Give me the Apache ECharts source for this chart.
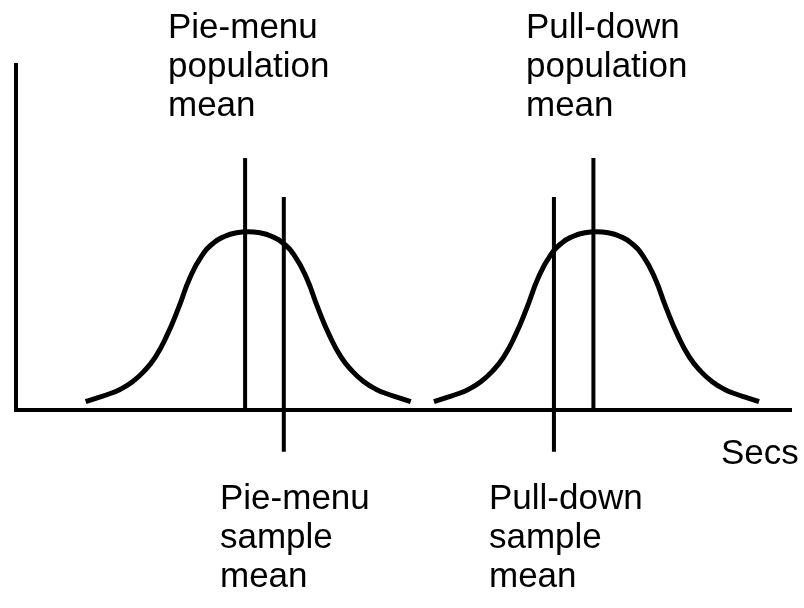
<!DOCTYPE html>
<html>
<head>
<meta charset="utf-8">
<script src="https://cdn.jsdelivr.net/npm/echarts@6/dist/echarts.min.js"></script>
<style>
  html, body { margin: 0; padding: 0; background: #fff; }
  #chart { width: 804px; height: 608px; }
</style>
</head>
<body>
<div id="chart"></div>
<script>
// Distribution of selection times (arbitrary units) for the two menu types
var pieMenuCurveX = [9, 10.5, 12, 13.5, 15, 16.5, 18, 19.5, 21, 22.5, 24, 25.5, 27, 28.5, 30, 31.5, 33, 34.5, 36, 37.5, 39, 40.5, 42, 43.5, 45, 46.5, 48, 49.5, 51];
var pieMenuCurveY = [2.3, 3.4, 4.5, 5.9, 8.0, 11.0, 15.2, 21.5, 29.5, 38.4, 44.6, 48.3, 50.3, 51.3, 51.6, 51.3, 50.3, 48.3, 44.6, 38.4, 29.5, 21.5, 15.2, 11.0, 8.0, 5.9, 4.5, 3.4, 2.3];

var pullDownCurveX = [54, 55.5, 57, 58.5, 60, 61.5, 63, 64.5, 66, 67.5, 69, 70.5, 72, 73.5, 75, 76.5, 78, 79.5, 81, 82.5, 84, 85.5, 87, 88.5, 90, 91.5, 93, 94.5, 96];
var pullDownCurveY = [2.3, 3.4, 4.5, 5.9, 8.0, 11.0, 15.2, 21.5, 29.5, 38.4, 44.6, 48.3, 50.3, 51.3, 51.6, 51.3, 50.3, 48.3, 44.6, 38.4, 29.5, 21.5, 15.2, 11.0, 8.0, 5.9, 4.5, 3.4, 2.3];

// Mean markers: x position, and the vertical extent of each marker line
var meanNames   = ['Pie-menu population mean', 'Pie-menu sample mean', 'Pull-down sample mean', 'Pull-down population mean'];
var meanX       = [29.6, 34.6, 69.5, 74.6];
var meanTop     = [73.0, 61.7, 61.7, 73.0];
var meanBottom  = [0, -12.3, -12.3, 0];

// Annotation text
var topLabels    = ['Pie-menu\npopulation\nmean', 'Pull-down\npopulation\nmean'];
var bottomLabels = ['Pie-menu\nsample\nmean', 'Pull-down\nsample\nmean'];
var axisName     = 'Secs';

function zip(xs, ys) {
  return xs.map(function (x, i) { return [x, ys[i]]; });
}

var FONT = '"Liberation Sans", Arial, Helvetica, sans-serif';
var INK = '#000';

var series = [
  {
    name: 'Pie-menu',
    type: 'line',
    data: zip(pieMenuCurveX, pieMenuCurveY),
    smooth: 0.5,
    showSymbol: false,
    lineStyle: { color: INK, width: 5 },
    z: 3
  },
  {
    name: 'Pull-down',
    type: 'line',
    data: zip(pullDownCurveX, pullDownCurveY),
    smooth: 0.5,
    showSymbol: false,
    lineStyle: { color: INK, width: 5 },
    z: 3
  }
];

meanNames.forEach(function (name, i) {
  series.push({
    name: name,
    type: 'line',
    data: [[meanX[i], meanBottom[i]], [meanX[i], meanTop[i]]],
    showSymbol: false,
    clip: false,
    lineStyle: { color: INK, width: 4, cap: 'butt' },
    z: 4
  });
});

function textEl(x, y, text, align) {
  return {
    type: 'text',
    left: x,
    top: y,
    style: {
      text: text,
      font: '35px ' + FONT,
      fill: INK,
      lineHeight: 39,
      textAlign: align || 'left'
    }
  };
}

var chart = echarts.init(document.getElementById('chart'), null, { renderer: 'canvas' });
chart.setOption({
  backgroundColor: '#fff',
  animation: false,
  grid: { left: 16, right: 14, top: 65, bottom: 198.5, containLabel: false },
  xAxis: {
    type: 'value',
    min: 0,
    max: 100,
    axisLine: { show: true, onZero: false, lineStyle: { color: INK, width: 4, cap: 'square' } },
    axisTick: { show: false },
    axisLabel: { show: false },
    splitLine: { show: false }
  },
  yAxis: {
    type: 'value',
    min: 0,
    max: 100,
    axisLine: { show: true, onZero: false, lineStyle: { color: INK, width: 4, cap: 'square' } },
    axisTick: { show: false },
    axisLabel: { show: false },
    splitLine: { show: false }
  },
  series: series,
  graphic: [
    textEl(168, 9, topLabels[0]),
    textEl(526, 9, topLabels[1]),
    textEl(220, 480, bottomLabels[0]),
    textEl(489, 480, bottomLabels[1]),
    textEl(721, 435, axisName)
  ]
});
</script>
</body>
</html>
